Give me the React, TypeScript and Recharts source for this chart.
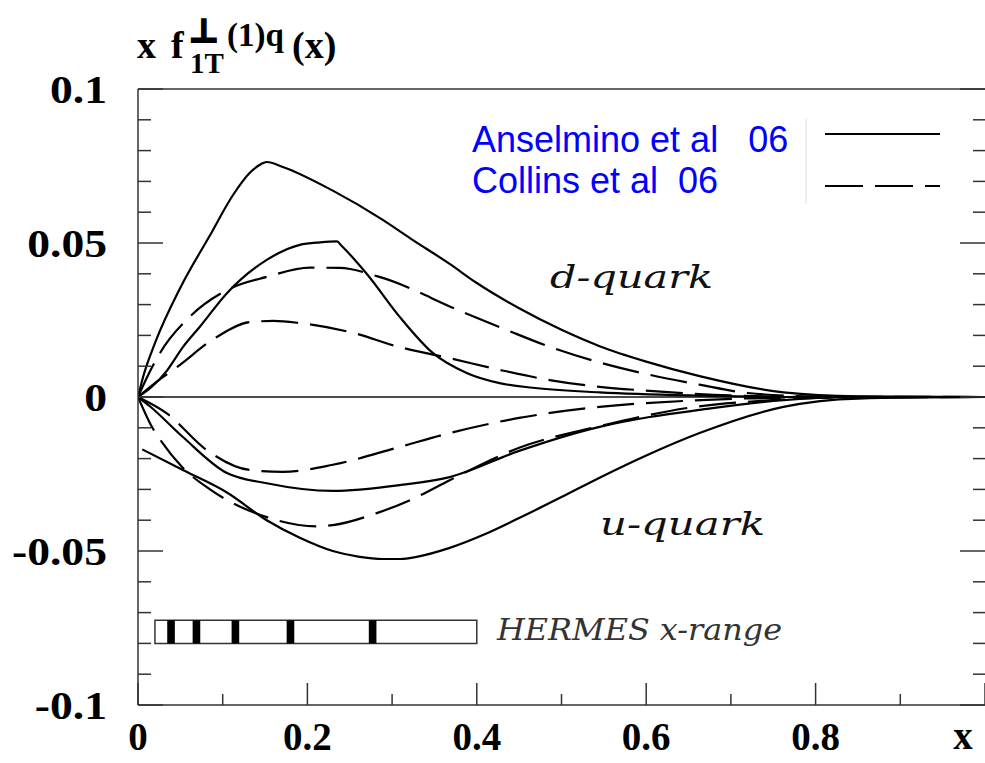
import React from "react";
import { LineChart, Line, XAxis, YAxis, ReferenceLine, ReferenceArea } from "recharts";

type Pt = { x: number; y: number };

// first moment of the Sivers function, x f_1T^(1)q(x)
// Anselmino et al 06 (solid)
const dAnselminoUpper: Pt[] = [
  { x: 0, y: 0 }, { x: 0.006, y: 0.0065 }, { x: 0.02, y: 0.0175 }, { x: 0.05, y: 0.0355 },
  { x: 0.085, y: 0.0525 }, { x: 0.112, y: 0.0655 }, { x: 0.132, y: 0.0728 }, { x: 0.145, y: 0.0756 },
  { x: 0.152, y: 0.0763 }, { x: 0.171, y: 0.0747 }, { x: 0.23, y: 0.067 }, { x: 0.289, y: 0.0575 },
  { x: 0.321, y: 0.0516 }, { x: 0.368, y: 0.0432 }, { x: 0.4, y: 0.037 }, { x: 0.45, y: 0.0288 },
  { x: 0.5, y: 0.0218 }, { x: 0.545, y: 0.0165 }, { x: 0.6, y: 0.0115 }, { x: 0.663, y: 0.0068 },
  { x: 0.762, y: 0.0015 }, { x: 0.85, y: 0.0002 }, { x: 1, y: 0 },
];
const dAnselminoLower: Pt[] = [
  { x: 0, y: 0 }, { x: 0.015, y: 0.003 }, { x: 0.034, y: 0.0085 }, { x: 0.053, y: 0.0162 },
  { x: 0.073, y: 0.0228 }, { x: 0.105, y: 0.0337 }, { x: 0.152, y: 0.0445 }, { x: 0.191, y: 0.0494 },
  { x: 0.215, y: 0.0502 }, { x: 0.235, y: 0.0505 }, { x: 0.24, y: 0.0492 }, { x: 0.27, y: 0.04 },
  { x: 0.309, y: 0.026 }, { x: 0.348, y: 0.0143 }, { x: 0.388, y: 0.0078 }, { x: 0.427, y: 0.0045 },
  { x: 0.466, y: 0.003 }, { x: 0.545, y: 0.0015 }, { x: 0.65, y: 0.0005 }, { x: 0.8, y: 0 }, { x: 1, y: 0 },
];
const uAnselminoUpper: Pt[] = [
  { x: 0, y: 0 }, { x: 0.014, y: -0.003 }, { x: 0.053, y: -0.013 }, { x: 0.105, y: -0.0247 },
  { x: 0.152, y: -0.028 }, { x: 0.23, y: -0.0305 }, { x: 0.309, y: -0.0286 }, { x: 0.368, y: -0.026 },
  { x: 0.45, y: -0.0175 }, { x: 0.545, y: -0.0097 }, { x: 0.604, y: -0.0065 }, { x: 0.663, y: -0.0042 },
  { x: 0.762, y: -0.001 }, { x: 0.85, y: 0 }, { x: 1, y: 0 },
];
const uAnselminoLower: Pt[] = [
  { x: 0.005, y: -0.017 }, { x: 0.053, y: -0.0237 }, { x: 0.105, y: -0.031 }, { x: 0.152, y: -0.04 },
  { x: 0.191, y: -0.0457 }, { x: 0.23, y: -0.05 }, { x: 0.26, y: -0.0518 }, { x: 0.289, y: -0.0526 },
  { x: 0.31, y: -0.0526 }, { x: 0.329, y: -0.0519 }, { x: 0.368, y: -0.049 }, { x: 0.41, y: -0.0445 },
  { x: 0.45, y: -0.0393 }, { x: 0.5, y: -0.0325 }, { x: 0.545, y: -0.0262 }, { x: 0.604, y: -0.0185 },
  { x: 0.663, y: -0.0117 }, { x: 0.762, y: -0.0032 }, { x: 0.85, y: -0.0005 }, { x: 1, y: 0 },
];

// Collins et al 06 (dashed)
const dCollinsUpper: Pt[] = [
  { x: 0, y: 0 }, { x: 0.01, y: 0.006 }, { x: 0.026, y: 0.0143 }, { x: 0.061, y: 0.026 },
  { x: 0.105, y: 0.0347 }, { x: 0.152, y: 0.039 }, { x: 0.203, y: 0.042 }, { x: 0.238, y: 0.0419 },
  { x: 0.285, y: 0.039 }, { x: 0.38, y: 0.028 }, { x: 0.435, y: 0.0218 }, { x: 0.486, y: 0.0163 },
  { x: 0.545, y: 0.0112 }, { x: 0.604, y: 0.0072 }, { x: 0.663, y: 0.004 }, { x: 0.72, y: 0.0013 },
  { x: 0.8, y: 0.0002 }, { x: 1, y: 0 },
];
const dCollinsLower: Pt[] = [
  { x: 0, y: 0 }, { x: 0.02, y: 0.0045 }, { x: 0.046, y: 0.0097 }, { x: 0.093, y: 0.0195 },
  { x: 0.132, y: 0.0243 }, { x: 0.16, y: 0.0247 }, { x: 0.191, y: 0.024 }, { x: 0.25, y: 0.0211 },
  { x: 0.309, y: 0.0162 }, { x: 0.368, y: 0.0126 }, { x: 0.427, y: 0.0088 }, { x: 0.486, y: 0.0055 },
  { x: 0.545, y: 0.0033 }, { x: 0.604, y: 0.002 }, { x: 0.7, y: 0.0005 }, { x: 0.8, y: 0 }, { x: 1, y: 0 },
];
const uCollinsUpper: Pt[] = [
  { x: 0, y: 0 }, { x: 0.034, y: -0.0053 }, { x: 0.081, y: -0.0172 }, { x: 0.132, y: -0.0237 },
  { x: 0.171, y: -0.0243 }, { x: 0.23, y: -0.022 }, { x: 0.309, y: -0.0162 }, { x: 0.368, y: -0.0117 },
  { x: 0.45, y: -0.0068 }, { x: 0.545, y: -0.0032 }, { x: 0.65, y: -0.0012 }, { x: 0.75, y: -0.0003 },
  { x: 1, y: 0 },
];
const uCollinsLower: Pt[] = [
  { x: 0, y: 0 }, { x: 0.017, y: -0.01 }, { x: 0.024, y: -0.013 }, { x: 0.052, y: -0.0227 },
  { x: 0.085, y: -0.03 }, { x: 0.152, y: -0.039 }, { x: 0.211, y: -0.042 }, { x: 0.23, y: -0.0416 },
  { x: 0.282, y: -0.0377 }, { x: 0.329, y: -0.0325 }, { x: 0.368, y: -0.027 }, { x: 0.45, y: -0.0165 },
  { x: 0.545, y: -0.0095 }, { x: 0.65, y: -0.0035 }, { x: 0.75, y: -0.001 }, { x: 0.85, y: 0 }, { x: 1, y: 0 },
];

const solidSeries = [dAnselminoUpper, dAnselminoLower, uAnselminoUpper, uAnselminoLower];
const dashedSeries = [dCollinsUpper, dCollinsLower, uCollinsUpper, uCollinsLower];

// HERMES coverage strip and its bin markers
const hermesRange = [0.02, 0.4];
const hermesBand = [-0.08, -0.0725];
const hermesBins = [0.039, 0.069, 0.115, 0.18, 0.277];
const binHalfWidth = 0.0045;

const xMajorTicks = [0, 0.2, 0.4, 0.6, 0.8, 1];
const xMinorTicks = [0.1, 0.3, 0.5, 0.7, 0.9];
const xTickLabels = ["0", "0.2", "0.4", "0.6", "0.8", ""];
const yMajorTicks = [-0.1, -0.05, 0, 0.05, 0.1];
const yMinorTicks = [-0.09, -0.08, -0.07, -0.06, -0.04, -0.03, -0.02, -0.01, 0.01, 0.02, 0.03, 0.04, 0.06, 0.07, 0.08, 0.09];
const yTickLabels = ["-0.1", "-0.05", "0", "0.05", "0.1"];

const legendItems = [
  { label: "Anselmino et al   06", dash: undefined as string | undefined },
  { label: "Collins et al  06", dash: "38 12" },
];

const W = 985;
const H = 763;
const SERIF = "'Liberation Serif', 'Times New Roman', serif";
const AXIS = "#333";
const DASH = "37 12";
const LINE_W = 2.2;

// ticks point into the frame; labels sit outside
const LeftTick = (props: any) => {
  const { x, y, payload } = props;
  const i = yMajorTicks.indexOf(payload.value);
  const major = i >= 0;
  return (
    <g>
      <line x1={x} y1={y} x2={x + (major ? 25 : 13)} y2={y} stroke={AXIS} strokeWidth={1.5} />
      {major && (
        <text
          transform={`translate(${x - 31},${y}) scale(1.17,1)`}
          dy="0.35em"
          textAnchor="end"
          fontFamily={SERIF}
          fontWeight="bold"
          fontSize={39}
          fill="#000"
        >
          {yTickLabels[i]}
        </text>
      )}
    </g>
  );
};

const RightTick = (props: any) => {
  const { x, y, payload } = props;
  const major = yMajorTicks.includes(payload.value);
  return <line x1={x} y1={y} x2={x - (major ? 25 : 12)} y2={y} stroke={AXIS} strokeWidth={1.5} />;
};

const BottomTick = (props: any) => {
  const { x, y, payload } = props;
  const i = xMajorTicks.indexOf(payload.value);
  const major = i >= 0;
  return (
    <g>
      <line x1={x} y1={y} x2={x} y2={y - (major ? 22 : 11)} stroke={AXIS} strokeWidth={1.5} />
      {major && (
        <text x={x} y={y + 45} textAnchor="middle" fontFamily={SERIF} fontWeight="bold" fontSize={39} fill="#000">
          {xTickLabels[i]}
        </text>
      )}
    </g>
  );
};

const TopTick = (props: any) => {
  const { x, y, payload } = props;
  const major = xMajorTicks.includes(payload.value);
  return <line x1={x} y1={y} x2={x} y2={y + (major ? 22 : 11)} stroke={AXIS} strokeWidth={1.5} />;
};

export default function App() {
  return (
    <div style={{ position: "absolute", left: 0, top: 0, width: W, height: H, background: "#fff", overflow: "hidden" }}>
      <LineChart width={W + 1} height={H} margin={{ top: 88, right: 0, bottom: 57, left: 137 }}>
        <XAxis
          type="number"
          dataKey="x"
          domain={[0, 1]}
          allowDataOverflow
          ticks={[...xMajorTicks, ...xMinorTicks]}
          interval={0}
          height={1}
          tickSize={0}
          tickMargin={0}
          tickLine={false}
          tick={BottomTick}
          axisLine={{ stroke: AXIS, strokeWidth: 1.5 }}
        />
        <XAxis
          xAxisId="top"
          orientation="top"
          type="number"
          domain={[0, 1]}
          allowDataOverflow
          ticks={[...xMajorTicks, ...xMinorTicks]}
          interval={0}
          height={1}
          tickSize={0}
          tickMargin={0}
          tickLine={false}
          tick={TopTick}
          axisLine={{ stroke: AXIS, strokeWidth: 1.5 }}
        />
        <YAxis
          type="number"
          domain={[-0.1, 0.1]}
          allowDataOverflow
          ticks={[...yMajorTicks, ...yMinorTicks]}
          interval={0}
          width={1}
          tickSize={0}
          tickMargin={0}
          tickLine={false}
          tick={LeftTick}
          axisLine={{ stroke: AXIS, strokeWidth: 1.5 }}
        />
        <YAxis
          yAxisId="right"
          orientation="right"
          type="number"
          domain={[-0.1, 0.1]}
          allowDataOverflow
          ticks={[...yMajorTicks, ...yMinorTicks]}
          interval={0}
          width={1}
          tickSize={0}
          tickMargin={0}
          tickLine={false}
          tick={RightTick}
          axisLine={false}
        />

        <ReferenceLine y={0} stroke="#111" strokeWidth={1.4} />

        <ReferenceArea
          x1={hermesRange[0]}
          x2={hermesRange[1]}
          y1={hermesBand[0]}
          y2={hermesBand[1]}
          fill="#fff"
          fillOpacity={1}
          stroke={AXIS}
          strokeWidth={1.5}
        />
        {hermesBins.map((b) => (
          <ReferenceArea
            key={b}
            x1={b - binHalfWidth}
            x2={b + binHalfWidth}
            y1={hermesBand[0]}
            y2={hermesBand[1]}
            fill="#000"
            fillOpacity={1}
            stroke="none"
          />
        ))}

        {solidSeries.map((d, i) => (
          <Line
            key={`s${i}`}
            data={d}
            dataKey="y"
            type="monotone"
            stroke="#000"
            strokeWidth={LINE_W}
            dot={false}
            activeDot={false}
            isAnimationActive={false}
          />
        ))}
        {dashedSeries.map((d, i) => (
          <Line
            key={`d${i}`}
            data={d}
            dataKey="y"
            type="monotone"
            stroke="#000"
            strokeWidth={LINE_W}
            strokeDasharray={DASH}
            dot={false}
            activeDot={false}
            isAnimationActive={false}
          />
        ))}
      </LineChart>

      <svg width={W} height={H} style={{ position: "absolute", left: 0, top: 0, pointerEvents: "none" }}>
        {/* axis title */}
        <g fontFamily={SERIF} fontWeight="bold" fill="#000">
          <text x={137} y={58} fontSize={38}>x</text>
          <text x={171} y={58} fontSize={38}>f</text>
          <text x={189} y={42} fontSize={32} fontFamily="'DejaVu Sans', sans-serif" stroke="#000" strokeWidth={2.2}>⊥</text>
          <text x={190} y={73} fontSize={29}>1T</text>
          <text x={227} y={46} fontSize={33}>(1)q</text>
          <text x={292} y={58} fontSize={38}>(x)</text>
          <text x={963} y={749} fontSize={39} textAnchor="middle">x</text>
        </g>

        {/* legend */}
        {legendItems.map((it, i) => (
          <g key={it.label}>
            <text
              x={472}
              y={152 + i * 41}
              fontFamily="'Liberation Sans', Arial, sans-serif"
              fontSize={36}
              fill="#0000ff"
              style={{ whiteSpace: "pre" }}
            >
              {it.label}
            </text>
            <line x1={825} x2={940} y1={134 + i * 52} y2={134 + i * 52} stroke="#000" strokeWidth={LINE_W} strokeDasharray={it.dash} />
          </g>
        ))}
        <line x1={806} x2={806} y1={119} y2={204} stroke="#ddd" strokeWidth={1} />

        {/* curve annotations */}
        <g fontFamily="'DejaVu Serif', serif" fontStyle="italic" fill="#111">
          <text x={550} y={288} fontSize={32} textLength={163} lengthAdjust="spacingAndGlyphs">d-quark</text>
          <text x={600} y={535} fontSize={32} textLength={165} lengthAdjust="spacingAndGlyphs">u-quark</text>
          <text x={497} y={640} fontSize={29} textLength={285} lengthAdjust="spacingAndGlyphs" fill="#333">HERMES x-range</text>
        </g>
      </svg>
    </div>
  );
}
